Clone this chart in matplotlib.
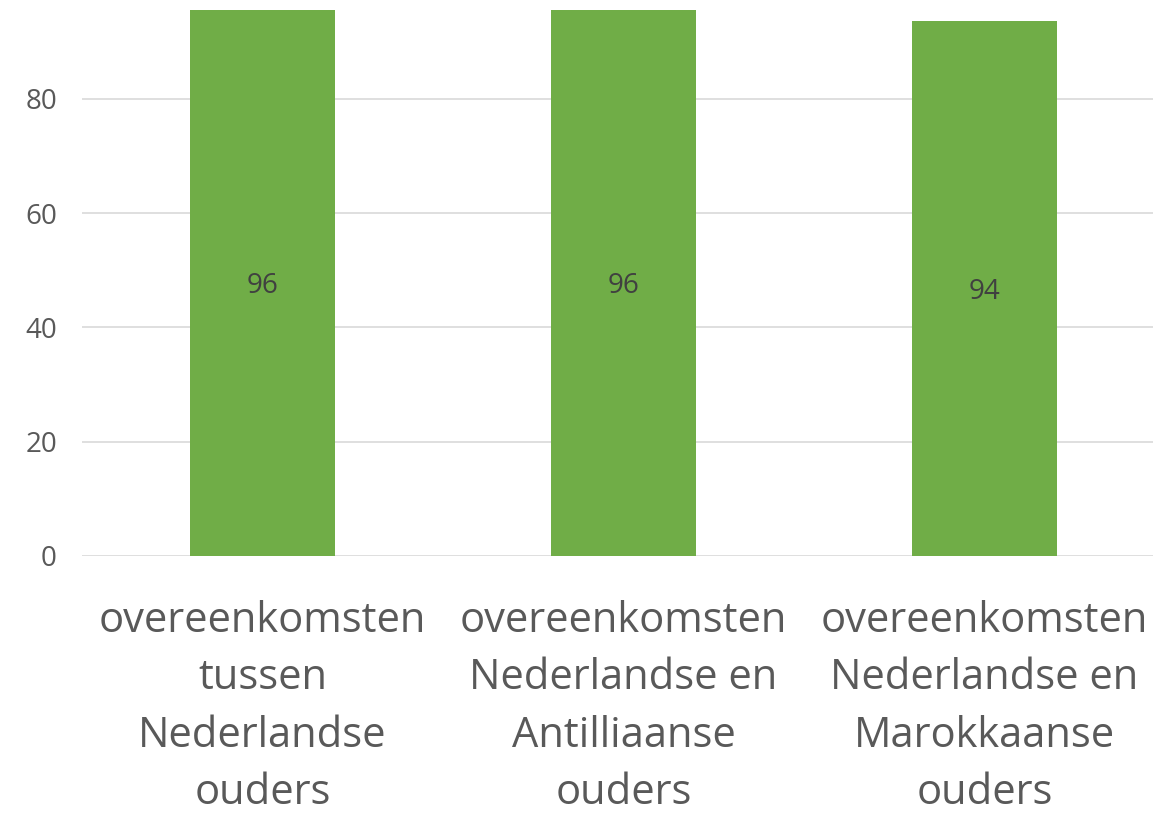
import matplotlib
matplotlib.use("Agg")
import matplotlib.pyplot as plt

# values (labels show rounded numbers)
categories = [
    "overeenkomsten\ntussen\nNederlandse\nouders",
    "overeenkomsten\nNederlandse en\nAntilliaanse\nouders",
    "overeenkomsten\nNederlandse en\nMarokkaanse\nouders",
]
values = [95.6, 95.6, 93.6]
yticks = [0, 20, 40, 60, 80]

bar_color = "#70ad47"
text_color = "#595959"
grid_color = "#d9d9d9"

plt.rcParams["font.family"] = ["Open Sans", "DejaVu Sans"]

fig = plt.figure(figsize=(11.53, 8.14), dpi=100)
ax = fig.add_axes([82 / 1153, 1 - 556 / 814, 1 - 82 / 1153, 556 / 814])

x = list(range(len(categories)))
ax.bar(x, values, width=0.4, color=bar_color, zorder=2)
for xi, v in zip(x, values):
    ax.text(xi, v / 2, f"{v:.0f}", ha="center", va="center_baseline",
            fontsize=20, color="#404040", zorder=3)

ax.set_xlim(-0.5, 2.467)
ax.set_ylim(0, 97.3)
ax.set_yticks(yticks)
ax.set_xticks(x)
ax.set_xticklabels(categories, fontsize=30, color=text_color, linespacing=1.47)
ax.tick_params(axis="y", labelsize=20, labelcolor=text_color, length=0, pad=18)
ax.tick_params(axis="x", length=0, pad=32)
ax.grid(axis="y", color=grid_color, linewidth=1.2, zorder=0)
for s in ax.spines.values():
    s.set_visible(False)

fig.savefig("out.png", dpi=100)
